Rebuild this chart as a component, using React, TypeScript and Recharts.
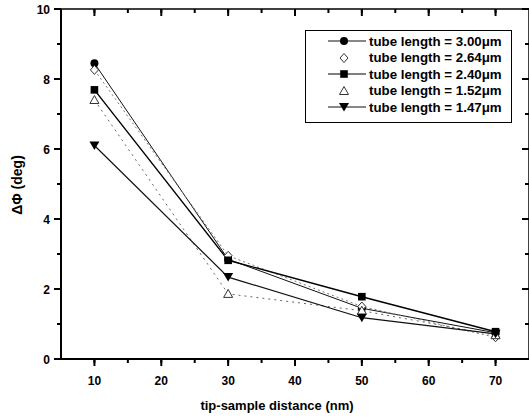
import React from 'react';
import { LineChart, Line, XAxis, YAxis, Legend, Label, ReferenceLine } from 'recharts';

const distances = [10, 30, 50, 70];
const t300 = [8.45, 2.85, 1.45, 0.75];
const t264 = [8.26, 2.95, 1.5, 0.62];
const t240 = [7.69, 2.82, 1.78, 0.78];
const t152 = [7.4, 1.86, 1.38, 0.68];
const t147 = [6.1, 2.34, 1.18, 0.72];

const xTicks = [10, 15, 20, 25, 30, 35, 40, 45, 50, 55, 60, 65, 70];
const yTicks = [0, 1, 2, 3, 4, 5, 6, 7, 8, 9, 10];
const xMajor = [10, 20, 30, 40, 50, 60, 70];
const yMajor = [0, 2, 4, 6, 8, 10];
const X_DOMAIN: [number, number] = [5, 75];
const Y_DOMAIN: [number, number] = [0, 10];

const series = [
  { key: 't300', name: 'tube length = 3.00\u03bcm', shape: 'circle', stroke: '#111', dash: undefined, width: 1, legendLine: true },
  { key: 't264', name: 'tube length = 2.64\u03bcm', shape: 'diamond', stroke: '#777', dash: '2 3', width: 1, legendLine: false },
  { key: 't240', name: 'tube length = 2.40\u03bcm', shape: 'square', stroke: '#000', dash: undefined, width: 1.4, legendLine: true },
  { key: 't152', name: 'tube length = 1.52\u03bcm', shape: 'triUp', stroke: '#666', dash: '2 4', width: 1, legendLine: false },
  { key: 't147', name: 'tube length = 1.47\u03bcm', shape: 'triDown', stroke: '#111', dash: undefined, width: 1.2, legendLine: true },
];

const data = distances.map((x, i) => ({
  x,
  t300: t300[i],
  t264: t264[i],
  t240: t240[i],
  t152: t152[i],
  t147: t147[i],
}));

const FONT = '"Liberation Sans", Arial, Helvetica, sans-serif';
const TICK_LINE = { stroke: '#000', strokeWidth: 2 };

// major tick lengths expressed in data units (about 7 px)
const X_TICK_LEN = 1.05;
const Y_TICK_LEN = 0.2;

function Marker({ shape, cx, cy }: { shape: string; cx: number; cy: number }) {
  switch (shape) {
    case 'circle':
      return <circle cx={cx} cy={cy} r={4} fill="#000" />;
    case 'diamond':
      return <polygon points={`${cx},${cy - 4.5} ${cx + 4},${cy} ${cx},${cy + 4.5} ${cx - 4},${cy}`} fill="#fff" stroke="#333" strokeWidth={1} />;
    case 'square':
      return <rect x={cx - 3.8} y={cy - 3.8} width={7.6} height={7.6} fill="#000" />;
    case 'triUp':
      return <polygon points={`${cx},${cy - 4.5} ${cx + 4.5},${cy + 3.5} ${cx - 4.5},${cy + 3.5}`} fill="#fff" stroke="#333" strokeWidth={1} />;
    case 'triDown':
      return <polygon points={`${cx - 5},${cy - 4} ${cx + 5},${cy - 4} ${cx},${cy + 4.5}`} fill="#000" />;
    default:
      return null;
  }
}

const makeDot = (shape: string) => (props: any) => {
  const { cx, cy, index } = props;
  if (cx == null || cy == null) return <g key={index} />;
  return <g key={index}><Marker shape={shape} cx={cx} cy={cy} /></g>;
};

const BottomTick = (props: any) => {
  const { x, y, payload } = props;
  if (payload.value % 10 !== 0) return <g />;
  return (
    <text x={x} y={y + 22} textAnchor="middle" fontSize={12} fontWeight="bold" fontFamily={FONT} fill="#000">
      {payload.value}
    </text>
  );
};

const LeftTick = (props: any) => {
  const { x, y, payload } = props;
  if (payload.value % 2 !== 0) return <g />;
  return (
    <text x={x - 7} y={y + 4.5} textAnchor="end" fontSize={12} fontWeight="bold" fontFamily={FONT} fill="#000">
      {payload.value}
    </text>
  );
};

const EmptyTick = () => <g />;

const LegendBox = () => (
  <div
    style={{
      border: '1.2px solid #000',
      background: '#fff',
      padding: '2px 0 6px 20px',
      fontFamily: FONT,
      boxSizing: 'border-box',
      width: 207,
    }}
  >
    {series.map((s) => (
      <div key={s.key} style={{ display: 'flex', alignItems: 'center', height: 16.5 }}>
        <svg width={42} height={16} style={{ display: 'block' }}>
          {s.legendLine && <line x1={2} x2={40} y1={8} y2={8} stroke={s.stroke} strokeWidth={1.1} />}
          <Marker shape={s.shape} cx={18} cy={8} />
        </svg>
        <span style={{ fontSize: 13.3, fontWeight: 'bold', marginLeft: 1, whiteSpace: 'nowrap', color: '#000' }}>{s.name}</span>
      </div>
    ))}
  </div>
);

const tickSeg = (key: string, a: { x: number; y: number }, b: { x: number; y: number }) => (
  <ReferenceLine
    key={key}
    xAxisId="b"
    yAxisId="l"
    segment={[a, b]}
    stroke="#000"
    strokeWidth={2}
    ifOverflow="visible"
  />
);

export default function App() {
  return (
    <div style={{ position: 'absolute', left: 0, top: 0, width: 529, height: 417, background: '#fff' }}>
      <LineChart width={529} height={417} data={data} margin={{ top: 9, right: 0, bottom: 28, left: 1 }}>
        <XAxis
          xAxisId="b"
          dataKey="x"
          type="number"
          domain={X_DOMAIN}
          ticks={xTicks}
          tickSize={4}
          tickMargin={0}
          tick={BottomTick}
          height={30}
          axisLine={{ stroke: '#000', strokeWidth: 2 }}
          tickLine={TICK_LINE}
          interval={0}
          allowDataOverflow
        >
          <Label
            content={() => (
              <text x={277} y={410} textAnchor="middle" fontSize={13} fontWeight="bold" fontFamily={FONT} fill="#000">
                tip-sample distance (nm)
              </text>
            )}
          />
        </XAxis>
        <XAxis
          xAxisId="t"
          orientation="top"
          mirror
          dataKey="x"
          type="number"
          domain={X_DOMAIN}
          ticks={xTicks}
          tickSize={4}
          tickMargin={0}
          tick={EmptyTick}
          height={1}
          axisLine={{ stroke: '#000', strokeWidth: 1.5 }}
          tickLine={TICK_LINE}
          interval={0}
          allowDataOverflow
        />
        <YAxis
          yAxisId="l"
          type="number"
          domain={Y_DOMAIN}
          ticks={yTicks}
          tickSize={4}
          tickMargin={0}
          tick={LeftTick}
          width={60}
          axisLine={{ stroke: '#000', strokeWidth: 2 }}
          tickLine={TICK_LINE}
          interval={0}
          allowDataOverflow
        >
          <Label
            content={() => (
              <text
                x={22}
                y={185}
                transform="rotate(-90 22 185)"
                textAnchor="middle"
                fontSize={14}
                fontWeight="bold"
                fontFamily={FONT}
                fill="#000"
              >
                {'\u0394\u03a6 (deg)'}
              </text>
            )}
          />
        </YAxis>
        <YAxis
          yAxisId="r"
          orientation="right"
          mirror
          type="number"
          domain={Y_DOMAIN}
          ticks={yTicks}
          tickSize={4}
          tickMargin={0}
          tick={EmptyTick}
          width={1}
          axisLine={{ stroke: '#000', strokeWidth: 1.5 }}
          tickLine={TICK_LINE}
          interval={0}
          allowDataOverflow
        />
        {xMajor.map((v) => tickSeg(`xb${v}`, { x: v, y: Y_DOMAIN[0] }, { x: v, y: Y_DOMAIN[0] - Y_TICK_LEN }))}
        {xMajor.map((v) => tickSeg(`xt${v}`, { x: v, y: Y_DOMAIN[1] }, { x: v, y: Y_DOMAIN[1] - Y_TICK_LEN }))}
        {yMajor.map((v) => tickSeg(`yl${v}`, { x: X_DOMAIN[0], y: v }, { x: X_DOMAIN[0] - X_TICK_LEN, y: v }))}
        {yMajor.map((v) => tickSeg(`yr${v}`, { x: X_DOMAIN[1], y: v }, { x: X_DOMAIN[1] - X_TICK_LEN, y: v }))}
        <Legend
          content={LegendBox}
          layout="vertical"
          verticalAlign="middle"
          align="center"
          wrapperStyle={{ position: 'absolute', left: 305, top: 30, width: 207, right: 'auto', bottom: 'auto' }}
        />
        {series.map((s) => (
          <Line
            key={s.key}
            xAxisId="b"
            yAxisId="l"
            type="linear"
            dataKey={s.key}
            name={s.name}
            stroke={s.stroke}
            strokeWidth={s.width}
            strokeDasharray={s.dash}
            dot={makeDot(s.shape)}
            activeDot={false}
            isAnimationActive={false}
          />
        ))}
      </LineChart>
    </div>
  );
}
